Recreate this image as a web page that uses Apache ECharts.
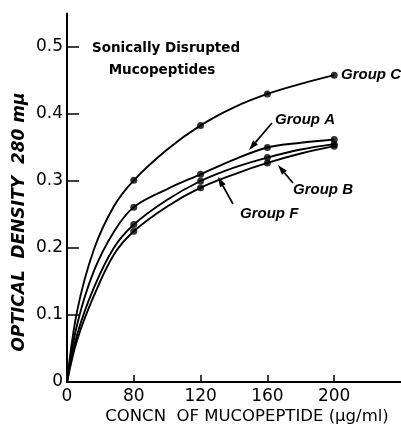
<!DOCTYPE html>
<html>
<head>
<meta charset="utf-8">
<script src="https://cdn.jsdelivr.net/npm/echarts@6/dist/echarts.min.js"></script>
<style>html,body{margin:0;padding:0;background:#fff;}#c{width:401px;height:427px;}</style>
</head>
<body>
<div id="c"></div>
<script>
// x tick labels (concentration, µg/ml) — equally spaced on the original axis
const xTickLabels = ['0', '80', '120', '160', '200', ''];
// measured concentrations
const concentrations = [80, 120, 160, 200];
// measured optical densities (dots)
const groupC = [0.301, 0.383, 0.430, 0.458];
const groupA = [0.261, 0.310, 0.350, 0.362];
const groupB = [0.235, 0.300, 0.335, 0.355];
const groupF = [0.225, 0.290, 0.327, 0.352];
// hand-drawn curves, at axis positions (tick index units)
const curvePos = [0, 0.15, 0.4, 0.7, 1, 1.5, 2, 2.5, 3, 3.5, 4];
const curveC = [0, 0.105, 0.197, 0.262, 0.301, 0.347, 0.383, 0.410, 0.430, 0.445, 0.458];
const curveA = [0, 0.085, 0.165, 0.224, 0.261, 0.288, 0.310, 0.332, 0.350, 0.357, 0.362];
const curveB = [0, 0.070, 0.140, 0.200, 0.235, 0.272, 0.300, 0.320, 0.335, 0.347, 0.355];
const curveF = [0, 0.062, 0.128, 0.190, 0.225, 0.262, 0.290, 0.310, 0.327, 0.341, 0.352];
const yTicks = [0, 0.1, 0.2, 0.3, 0.4, 0.5];

const pos = c => xTickLabels.indexOf(String(c));
const pts = vals => concentrations.map((c, i) => [pos(c), vals[i]]);
const curve = vals => curvePos.map((p, i) => [p, vals[i]]);

const chart = echarts.init(document.getElementById('c'), null, {renderer: 'canvas'});
const lineSeries = vals => ({
  type: 'line', data: curve(vals), smooth: 0.35, showSymbol: false, symbol: 'none',
  lineStyle: {color: '#000', width: 1.9}, silent: true, z: 2
});
const dotSeries = vals => ({
  type: 'scatter', data: pts(vals), symbol: 'circle', symbolSize: 7,
  itemStyle: {color: '#000'}, z: 3
});

function arrow(x1, y1, x2, y2) {
  const ang = Math.atan2(y2 - y1, x2 - x1);
  const L = 10, W = 3.2;
  const bx = x2 - L * Math.cos(ang), by = y2 - L * Math.sin(ang);
  const px = -Math.sin(ang) * W, py = Math.cos(ang) * W;
  return [
    {type: 'line', shape: {x1: x1, y1: y1, x2: bx, y2: by}, style: {stroke: '#000', lineWidth: 1.7}},
    {type: 'polygon', shape: {points: [[x2, y2], [bx + px, by + py], [bx - px, by - py]]}, style: {fill: '#000'}}
  ];
}
const labelFont = 'bold italic 15px "Liberation Sans"';
const graphics = [
  {type: 'text', x: 166, y: 48, style: {text: 'Sonically Disrupted', font: 'bold 13.5px "DejaVu Sans"', fill: '#000', textAlign: 'center', textVerticalAlign: 'middle'}},
  {type: 'text', x: 162, y: 70, style: {text: 'Mucopeptides', font: 'bold 13.5px "DejaVu Sans"', fill: '#000', textAlign: 'center', textVerticalAlign: 'middle'}},
  {type: 'text', x: 341, y: 75, style: {text: 'Group C', font: labelFont, fill: '#000', textAlign: 'left', textVerticalAlign: 'middle'}},
  {type: 'text', x: 275, y: 120, style: {text: 'Group A', font: labelFont, fill: '#000', textAlign: 'left', textVerticalAlign: 'middle'}},
  {type: 'text', x: 293, y: 190, style: {text: 'Group B', font: labelFont, fill: '#000', textAlign: 'left', textVerticalAlign: 'middle'}},
  {type: 'text', x: 240, y: 214, style: {text: 'Group F', font: labelFont, fill: '#000', textAlign: 'left', textVerticalAlign: 'middle'}},
  {type: 'text', x: 20, y: 222, rotation: Math.PI / 2, style: {text: 'OPTICAL  DENSITY  280 mμ', font: 'bold italic 17px "DejaVu Sans"', fill: '#000', textAlign: 'center', textVerticalAlign: 'middle'}},
  {type: 'text', x: 247, y: 417, style: {text: 'CONCN  OF MUCOPEPTIDE (μg/ml)', font: '16.5px "DejaVu Sans"', fill: '#000', textAlign: 'center', textVerticalAlign: 'middle'}}
].concat(arrow(272, 123, 249, 150), arrow(293, 183, 278, 165), arrow(233, 204, 218, 177));

chart.setOption({
  animation: false,
  backgroundColor: '#fff',
  grid: {left: 67, top: 13.5, width: 335, height: 368.5, containLabel: false},
  xAxis: {
    type: 'value', min: 0, max: 5, interval: 1,
    axisLine: {show: true, onZero: false, lineStyle: {color: '#000', width: 2}},
    axisTick: {show: true, inside: true, length: 7, lineStyle: {color: '#000', width: 1.5}, customValues: [1, 2, 3, 4]},
    axisLabel: {color: '#000', fontFamily: 'DejaVu Sans', fontSize: 17, margin: 6,
      customValues: [0, 1, 2, 3, 4], formatter: v => xTickLabels[Math.round(v)]},
    splitLine: {show: false}
  },
  yAxis: {
    type: 'value', min: 0, max: 0.55,
    axisLine: {show: true, lineStyle: {color: '#000', width: 2}},
    axisTick: {show: true, inside: true, length: 12, lineStyle: {color: '#000', width: 1.5}, customValues: yTicks.slice(1)},
    axisLabel: {color: '#000', fontFamily: 'DejaVu Sans', fontSize: 17, margin: 4,
      customValues: yTicks, formatter: v => (v === 0 ? '0' : v.toFixed(1))},
    splitLine: {show: false}
  },
  series: [
    lineSeries(curveC), lineSeries(curveA), lineSeries(curveB), lineSeries(curveF),
    dotSeries(groupC), dotSeries(groupA), dotSeries(groupB), dotSeries(groupF)
  ],
  graphic: graphics
});
</script>
</body>
</html>
